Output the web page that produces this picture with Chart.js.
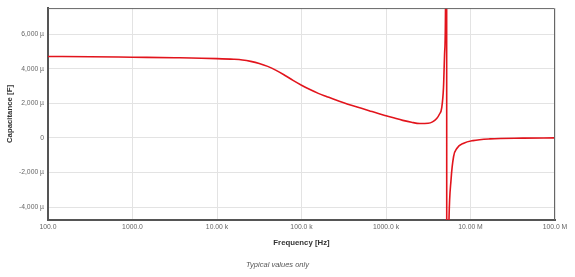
<!DOCTYPE html>
<html lang="en">
<head>
    <meta charset="UTF-8">
    <title>Capacitance</title>
    <script src="https://cdn.jsdelivr.net/npm/chart.js@4.4.1/dist/chart.umd.min.js"></script>
    <style>
        body { margin: 0; background: #fff; }
    </style>
</head>
<body>
    <canvas id="myChart" width="575" height="277"></canvas>

    <script>
        // frequency in Hz, capacitance in micro farad
        const freqHz = [100, 316, 1000, 3160, 10000, 15800, 20000, 25100, 31600, 39800,
            50100, 63100, 79400, 100000, 126000, 158000, 200000, 251000, 316000, 398000,
            501000, 631000, 794000, 1000000, 1260000, 1580000, 2000000, 2510000, 3160000,
            3550000, 3980000, 4270000, 4570000, 4790000, 4950000, 5070000, 5190000,
            5270000, 5430000, 5560000, 5890000, 6310000, 6920000, 8320000, 10700000,
            17000000, 41700000, 100000000]
        const capMicro = [4700, 4690, 4660, 4630, 4580, 4540, 4500, 4420, 4300, 4130,
            3900, 3620, 3320, 3040, 2790, 2570, 2380, 2200, 2030, 1870,
            1720, 1570, 1420, 1280, 1140, 1010, 900, 830, 840,
            920, 1120, 1350, 1750, 2900, 5000, 8000, 40000,
            -40000, -9000, -4800, -2400, -1080, -600, -310, -160,
            -60, -17, -5]

        const xTickValues = [1e2, 1e3, 1e4, 1e5, 1e6, 1e7, 1e8]
        const xTickLabels = ['100.0', '1000.0', '10.00 k', '100.0 k', '1000.0 k', '10.00 M', '100.0 M']
        const yTickValues = [-4000, -2000, 0, 2000, 4000, 6000]

        const points = freqHz.map((f, i) => ({ x: f, y: capMicro[i] }))

        const frame = {
            id: 'frame',
            afterDraw(chart) {
                const a = chart.chartArea
                const ctx = chart.ctx
                ctx.save()
                ctx.strokeStyle = '#666'
                ctx.lineWidth = 1
                ctx.beginPath()
                ctx.moveTo(a.left, a.top + 0.5)
                ctx.lineTo(a.right - 0.5, a.top + 0.5)
                ctx.lineTo(a.right - 0.5, a.bottom)
                ctx.stroke()
                ctx.restore()
            }
        }

        const ctx = document.getElementById('myChart').getContext('2d')
        new Chart(ctx, {
            type: 'line',
            data: {
                datasets: [{
                    data: points,
                    borderColor: '#e2141c',
                    borderWidth: 1.6,
                    pointRadius: 0,
                    fill: false,
                    cubicInterpolationMode: 'monotone'
                }]
            },
            options: {
                responsive: false,
                animation: false,
                layout: { padding: { top: 8, right: 20, left: 0, bottom: 0 } },
                plugins: {
                    legend: { display: false },
                    tooltip: { enabled: false },
                    title: {
                        display: true,
                        text: 'Typical values only',
                        position: 'bottom',
                        color: '#555',
                        font: { family: 'Liberation Sans, Arial', size: 7.5, style: 'italic', weight: 'normal', lineHeight: 1.2 },
                        padding: { top: 4, bottom: 8 }
                    }
                },
                scales: {
                    x: {
                        type: 'logarithmic',
                        min: 100,
                        max: 1e8,
                        afterBuildTicks: s => { s.ticks = xTickValues.map(v => ({ value: v })) },
                        afterFit: s => { s.height = 36 },
                        ticks: {
                            autoSkip: false,
                            maxRotation: 0,
                            padding: 3,
                            color: '#666',
                            font: { family: 'Liberation Sans, Arial', size: 6.8 },
                            callback: (v, i) => xTickLabels[i]
                        },
                        grid: { color: '#e3e3e3', drawTicks: false },
                        border: { color: '#555', width: 2 },
                        title: {
                            display: true,
                            text: 'Frequency [Hz]',
                            color: '#333',
                            font: { family: 'Liberation Sans, Arial', size: 7.8, weight: 'bold', lineHeight: 1.2 },
                            padding: { top: 0, bottom: 8.5 }
                        }
                    },
                    y: {
                        min: -4750,
                        max: 7500,
                        afterBuildTicks: s => { s.ticks = yTickValues.map(v => ({ value: v })) },
                        afterFit: s => { s.width = 48 },
                        ticks: {
                            padding: 4,
                            color: '#666',
                            font: { family: 'Liberation Sans, Arial', size: 6.8 },
                            callback: v => v === 0 ? '0' : v.toLocaleString('en-US') + ' µ'
                        },
                        grid: { color: '#e3e3e3', drawTicks: false },
                        border: { color: '#555', width: 2 },
                        title: {
                            display: true,
                            text: 'Capacitance [F]',
                            color: '#333',
                            font: { family: 'Liberation Sans, Arial', size: 7.8, weight: 'bold', lineHeight: 1.2 },
                            padding: { top: 5, bottom: 0 }
                        }
                    }
                }
            },
            plugins: [frame]
        })
    </script>
</body>
</html>
